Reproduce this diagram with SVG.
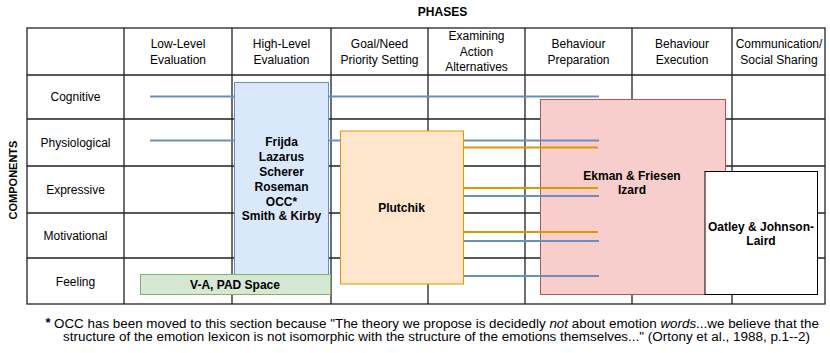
<svg xmlns="http://www.w3.org/2000/svg" width="830" height="353" viewBox="0 0 830 353">
<style>
text{font-family:"Liberation Sans",Arial,sans-serif;fill:#000}
.h{font-size:12px;text-anchor:middle}
.b{font-size:12px;font-weight:bold;text-anchor:middle}
.g{stroke:#222;stroke-width:1.3;fill:none}
.cb{stroke:#6c8ebf;stroke-width:2;fill:none}
.co{stroke:#d79b00;stroke-width:2;fill:none}
.fn{font-size:12px}
</style>
<rect width="830" height="353" fill="#fff"/>
<g id="table">
<rect class="g" x="27" y="28" width="798" height="276"/>
<path class="g" d="M124 28V304M232 28V304M331 28V304M428 28V304M525 28V304M632 28V304M732 28V304M27 75H825M27 119H825M27 166H825M27 213H825M27 258H825"/>
<text x="442.5" y="16" class="b">PHASES</text>
<text transform="translate(16.5,180) rotate(-90)" style="font-size:11px;font-weight:bold;text-anchor:middle">COMPONENTS</text>
<text class="h" x="178" y="48">Low-Level</text><text class="h" x="178" y="63.5">Evaluation</text>
<text class="h" x="281.5" y="48">High-Level</text><text class="h" x="281.5" y="63.5">Evaluation</text>
<text class="h" x="379.5" y="48">Goal/Need</text><text class="h" x="379.5" y="63.5">Priority Setting</text>
<text class="h" x="476.5" y="40">Examining</text><text class="h" x="476.5" y="55.5">Action</text><text class="h" x="476.5" y="71">Alternatives</text>
<text class="h" x="578.5" y="48">Behaviour</text><text class="h" x="578.5" y="63.5">Preparation</text>
<text class="h" x="682" y="48">Behaviour</text><text class="h" x="682" y="63.5">Execution</text>
<text class="h" x="779" y="48">Communication/</text><text class="h" x="779" y="63.5">Social Sharing</text>
<text class="h" x="75.5" y="101">Cognitive</text>
<text class="h" x="75.5" y="146.5">Physiological</text>
<text class="h" x="75.5" y="193.5">Expressive</text>
<text class="h" x="75.5" y="240">Motivational</text>
<text class="h" x="75.5" y="285.5">Feeling</text>
</g>
<g id="ekman">
<rect x="540.5" y="99.5" width="185" height="195" fill="#f8cecc" stroke="#b85450"/>
<text class="b" x="632" y="179.5">Ekman &amp; Friesen</text>
<text class="b" x="632" y="194">Izard</text>
</g>
<g id="connectors">
<path class="cb" d="M150 96.5H599M150 140.5H599M400 196H599M400 241H599M400 276H599"/>
<path class="co" d="M400 147.5H598M400 188H598M400 232H598"/>
</g>
<g id="appraisal">
<rect x="234.5" y="82.5" width="94" height="192" fill="#dae8fc" stroke="#6c8ebf"/>
<text class="b" x="281.5" y="146">Frijda</text>
<text class="b" x="281.5" y="161">Lazarus</text>
<text class="b" x="281.5" y="176">Scherer</text>
<text class="b" x="281.5" y="191">Roseman</text>
<text class="b" x="281.5" y="205.5">OCC*</text>
<text class="b" x="281.5" y="220">Smith &amp; Kirby</text>
</g>
<g id="plutchik">
<rect x="340.5" y="131" width="123" height="153" fill="#ffe6cc" stroke="#d79b00"/>
<text class="b" x="401.5" y="211.5">Plutchik</text>
</g>
<g id="vapad">
<rect x="140.5" y="274.5" width="190" height="20" fill="#d5e8d4" stroke="#82b366"/>
<text class="b" x="235" y="288.5">V-A, PAD Space</text>
</g>
<g id="oatley">
<rect x="705" y="171.5" width="112.5" height="123" fill="#fff" stroke="#000"/>
<text class="b" x="761" y="230.5">Oatley &amp; Johnson-</text>
<text class="b" x="761" y="245">Laird</text>
</g>
<g id="footnote">
<text x="48" y="327" style="font-size:13px;font-weight:bold;text-anchor:middle">*</text>
<text class="fn" x="54" y="328" textLength="765" lengthAdjust="spacingAndGlyphs">OCC has been moved to this section because "The theory we propose is decidedly <tspan font-style="italic">not</tspan> about emotion <tspan font-style="italic">words</tspan>...we believe that the</text>
<text class="fn" x="63" y="341" textLength="747" lengthAdjust="spacingAndGlyphs">structure of the emotion lexicon is not isomorphic with the structure of the emotions themselves..." (Ortony et al., 1988, p.1--2)</text>
</g>
</svg>
